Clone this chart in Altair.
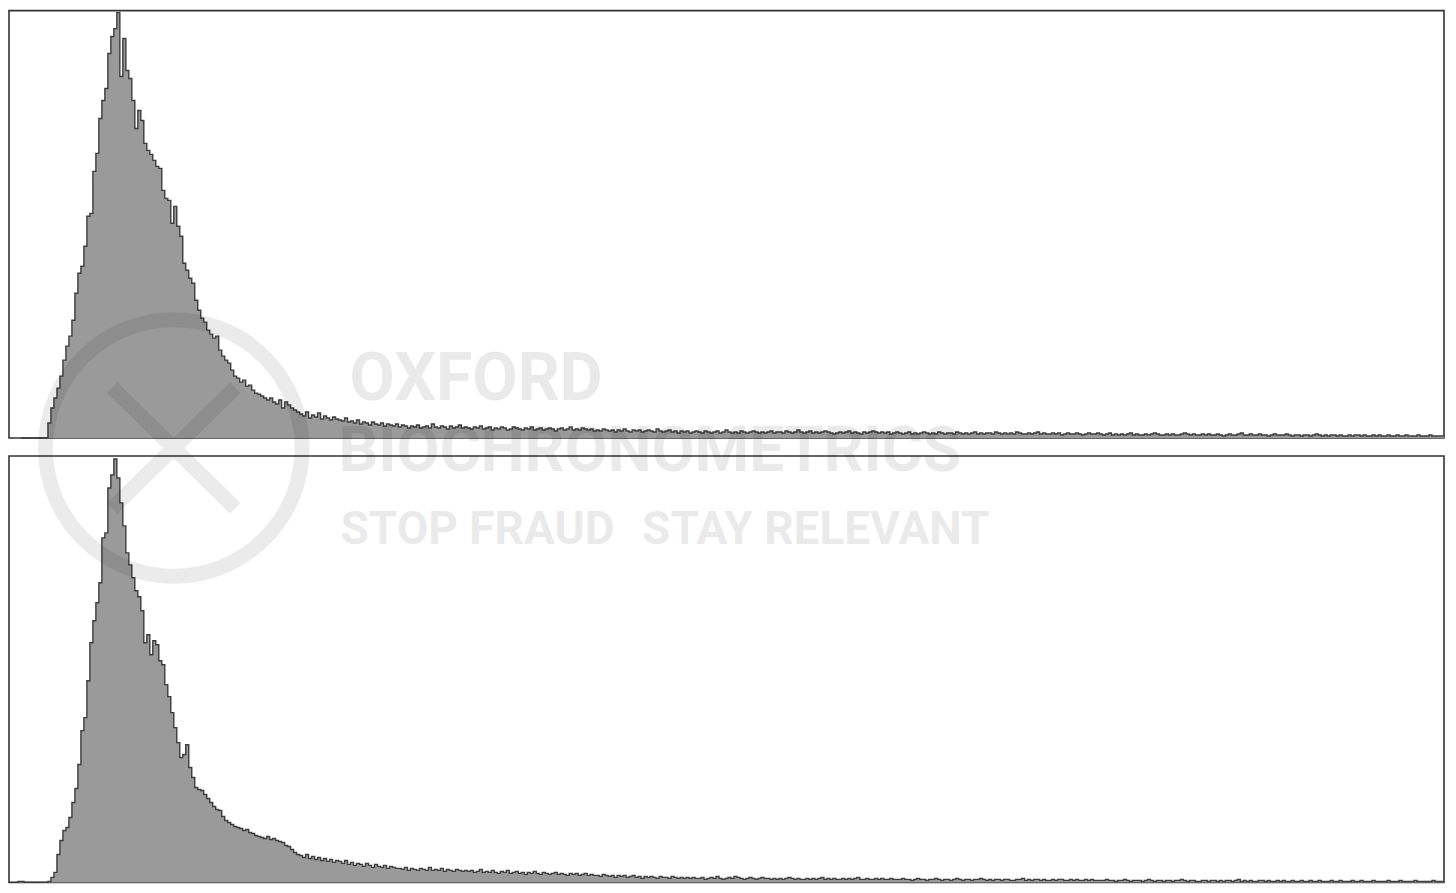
import altair as alt
import pandas as pd

# ---------------- data (bin index -> count) ----------------
N_BINS = 479

top_start = 4
top_counts = [
    0, 0, 0, 0, 0, 0, 0, 0, 0,
    15, 30, 40, 50, 62, 78, 92, 102, 118, 145,
    165, 172, 192, 222, 225, 267, 285, 320, 338, 350,
    385, 402, 410, 426, 362, 400, 368, 360, 338, 310,
    328, 318, 295, 288, 284, 278, 272, 270, 248, 240,
    238, 215, 232, 212, 202, 175, 168, 160, 155, 138,
    128, 120, 116, 108, 104, 100, 102, 88, 82, 78,
    75, 68, 62, 60, 56, 58, 52, 53, 48, 45,
    44, 42, 40, 38, 40, 36, 34, 38, 30, 36,
    33, 30, 28, 26,
    24, 22, 26, 20, 23, 21, 25, 19, 22, 20, 18, 21, 19,
    18, 17, 20, 16, 17, 15, 18, 14, 16, 15, 13, 16, 14, 13, 15, 12, 14, 13, 12, 14,
    11, 13, 12, 10, 12, 11, 13, 10, 11, 12, 10, 14, 11, 10, 12, 11, 9, 12, 10, 11, 13, 10, 11,
    10, 9, 11, 10, 12, 9, 10, 11, 8, 10, 9, 11, 10, 8, 9, 11, 10, 9, 8, 10,
    9, 11, 8, 9, 10, 8, 9, 10, 9, 7, 9, 10, 8, 9, 11, 8, 9, 8, 10, 9, 8, 9, 7,
    8, 7, 9, 8, 7, 8, 6, 8, 7, 9, 7, 6, 8, 7, 8, 6, 7, 8, 7, 6,
    9, 7, 6, 7, 8, 6, 7, 5, 7, 6, 7, 5, 6, 7,
    6, 5, 7, 6, 5, 6, 7, 5, 6, 8, 6, 5, 6, 5, 7, 6, 5, 6, 7, 6,
    5, 6, 5, 6, 7, 5, 6, 6, 5, 7, 6, 5, 6, 8, 6, 5, 6, 7, 5, 6,
    5, 6, 7, 6, 5, 4, 5, 6, 5, 6, 7, 5, 6, 5, 4, 6, 5, 6, 7, 6,
    5, 6, 5, 6, 4, 5, 6,
    5, 4, 5, 6, 4, 5, 4, 5, 6, 5, 4, 5, 4, 6, 5, 4, 5, 5, 4, 6,
    5, 4, 5, 4, 5, 6, 4, 5, 4, 5, 5, 4, 6, 5, 4, 5, 4, 5, 4, 6,
    5, 4, 4, 5, 4, 5, 6, 4, 5, 4, 4, 5, 4, 5, 3, 4, 5, 4, 4, 5,
    4, 3, 4, 5, 4, 4, 5,
    4, 3, 4, 5, 3, 4, 3, 4, 3, 4, 5, 3, 4, 3, 3, 4, 3, 4, 5, 4,
    3, 3, 4, 3, 4, 3, 3, 4, 5, 4, 3, 4, 3, 3, 4, 3, 4, 3, 3, 4,
    3, 2, 3, 4, 3, 3, 4, 5, 3, 3, 4, 3, 3, 4, 3, 3, 2, 3, 4, 3,
    3, 3, 4, 3, 2, 3,
    3, 2, 3, 3, 2, 3, 4, 3, 2, 3, 2, 3, 3, 2, 3, 2, 2, 3, 2, 3,
    3, 2, 3, 2, 2, 3, 2, 3, 2, 2, 3, 2, 2, 3, 2, 2, 3, 2, 2, 2,
    3, 2, 2, 2, 3, 2, 2, 2, 2,
]

bottom_start = 2
bottom_counts = [
    0, 1, 1, 0, 0, 0, 0, 0, 0, 0, 0,
    1, 5, 10, 28, 42, 52, 55, 65, 80, 94,
    118, 152, 165, 202, 240, 262, 280, 300, 345, 350,
    395, 408, 424, 405, 380, 357, 330, 318, 305, 292,
    286, 272, 240, 248, 228, 242, 238, 222, 218, 198,
    186, 170, 155, 140, 125, 128, 138, 115, 105, 95,
    93, 92, 88, 84, 80, 76, 73, 72, 66, 62,
    60, 58, 56, 55, 54, 52, 53, 50, 49, 47,
    46, 45, 44, 46, 43, 44, 42, 41, 40, 37,
    36, 33, 30, 28,
    27, 25, 28, 24, 26, 23, 25, 22, 24, 21, 23, 20, 22,
    21, 19, 22, 18, 20, 17, 19, 18, 16, 19, 17, 15, 18, 16, 15, 17, 14, 16, 15, 14,
    14, 13, 15, 12, 14, 13, 12, 14, 13, 12, 15, 12, 13, 12, 14, 11, 13, 12, 11, 13, 12, 11, 12,
    11, 12, 10, 11, 13, 10, 11, 10, 12, 10, 9, 11, 10, 12, 9, 10, 11, 9, 10, 8,
    10, 9, 11, 9, 8, 10, 9, 8, 9, 10, 8, 9, 8, 7, 9, 8, 9, 7, 8, 9, 7, 8, 7,
    7, 6, 8, 7, 6, 7, 5, 7, 6, 7, 5, 6, 7, 5, 6, 4, 6, 5, 6, 5,
    4, 6, 5, 5, 4, 6, 5, 4, 5, 4, 5, 4, 5, 4,
    4, 5, 3, 4, 5, 4, 6, 4, 3, 4, 5, 4, 6, 5, 4, 3, 4, 5, 4, 3,
    4, 5, 4, 4, 3, 4, 3, 4, 3, 4, 5, 4, 3, 4, 3, 3, 4, 3, 4, 3,
    4, 5, 3, 4, 3, 4, 3, 3, 4, 3, 4, 3, 4, 5, 3, 3, 4, 3, 3, 4,
    3, 4, 3, 3, 4, 3, 3,
    3, 4, 3, 3, 2, 3, 4, 3, 3, 2, 3, 3, 4, 3, 2, 3, 3, 2, 3, 4,
    3, 2, 3, 3, 2, 3, 3, 4, 3, 2, 3, 2, 3, 3, 2, 3, 3, 2, 2, 3,
    3, 4, 2, 3, 2, 3, 3, 2, 3, 2, 2, 3, 2, 3, 3, 2, 2, 3, 2, 3,
    2, 2, 3, 2, 3, 2, 2,
    2, 2, 3, 2, 2, 1, 2, 2, 3, 2, 1, 2, 2, 2, 1, 2, 3, 2, 1, 2,
    2, 1, 2, 2, 1, 2, 2, 3, 2, 1, 2, 2, 1, 1, 2, 2, 1, 2, 2, 1,
    2, 1, 2, 2, 1, 2, 3, 1, 2, 1, 2, 1, 1, 2, 2, 1, 2, 1, 1, 2,
    1, 2, 1, 1, 2, 1,
    1, 2, 1, 1, 2, 1, 1, 2, 1, 1, 1, 2, 1, 1, 2, 1, 1, 1, 2, 1,
    1, 2, 1, 1, 1, 2, 1, 1, 1, 1, 2, 1, 1, 1, 2, 1, 1, 1, 1, 2,
    1, 1, 1, 1, 1, 2, 1, 1, 1,
]

wm_line1 = "OXFORD"
wm_line2 = "BIOCHRONOMETRICS"
wm_line3a = "STOP FRAUD"
wm_line3b = "STAY RELEVANT"


def bins_frame(start, counts):
    xs = list(range(start, start + len(counts) + 1))
    ys = list(counts) + [counts[-1]]
    return pd.DataFrame({"bin": xs, "count": ys})


W = 1437
H_TOP = 428
H_BOT = 427


def hist(df, ymax):
    return alt.Chart(df).mark_area(
        interpolate="step-after",
        color="#9a9a9a",
        opacity=1,
        fillOpacity=1,
        line={"color": "#3c3c3c", "strokeWidth": 1.4},
    ).encode(
        x=alt.X("bin:Q", scale=alt.Scale(domain=[0, N_BINS], nice=False, zero=False), axis=None),
        y=alt.Y("count:Q", scale=alt.Scale(domain=[0, ymax], nice=False, zero=True), axis=None),
    )


top = hist(bins_frame(top_start, top_counts), 428).properties(width=W, height=H_TOP)

one = alt.Data(values=[{"k": 1}])
WM_FONT = "Roboto"
LOGO = ("M-1,0A1,1,0,1,1,1,0A1,1,0,1,1,-1,0Z"
        "M-0.48,-0.47L0.48,0.47M0.48,-0.47L-0.48,0.47")

logo = alt.Chart(one).mark_point(
    shape=LOGO, size=66049, filled=False, color="black",
    strokeWidth=15, opacity=1, strokeOpacity=0.08,
).encode(x=alt.value(165), y=alt.value(-8))


def wm_text(txt, size, x, y):
    return alt.Chart(one).mark_text(
        text=txt, font=WM_FONT, fontSize=size, fontWeight="bold",
        color="black", opacity=0.08, align="left", baseline="alphabetic",
    ).encode(x=alt.value(x), y=alt.value(y))


bottom = alt.layer(
    hist(bins_frame(bottom_start, bottom_counts), 427),
    logo,
    wm_text(wm_line1, 66, 341, -56),
    wm_text(wm_line2, 62.5, 330, 15),
    wm_text(wm_line3a, 46, 332, 88),
    wm_text(wm_line3b, 46, 634, 88),
).properties(width=W, height=H_BOT)

chart = alt.vconcat(top, bottom, spacing=18, bounds="flush").properties(
    padding={"left": 0, "top": 0, "right": 0, "bottom": 0},
    background="white",
).configure_view(stroke="#333333", strokeWidth=1.6)

chart.save("out.html", embed_options={"renderer": "svg", "actions": False})
